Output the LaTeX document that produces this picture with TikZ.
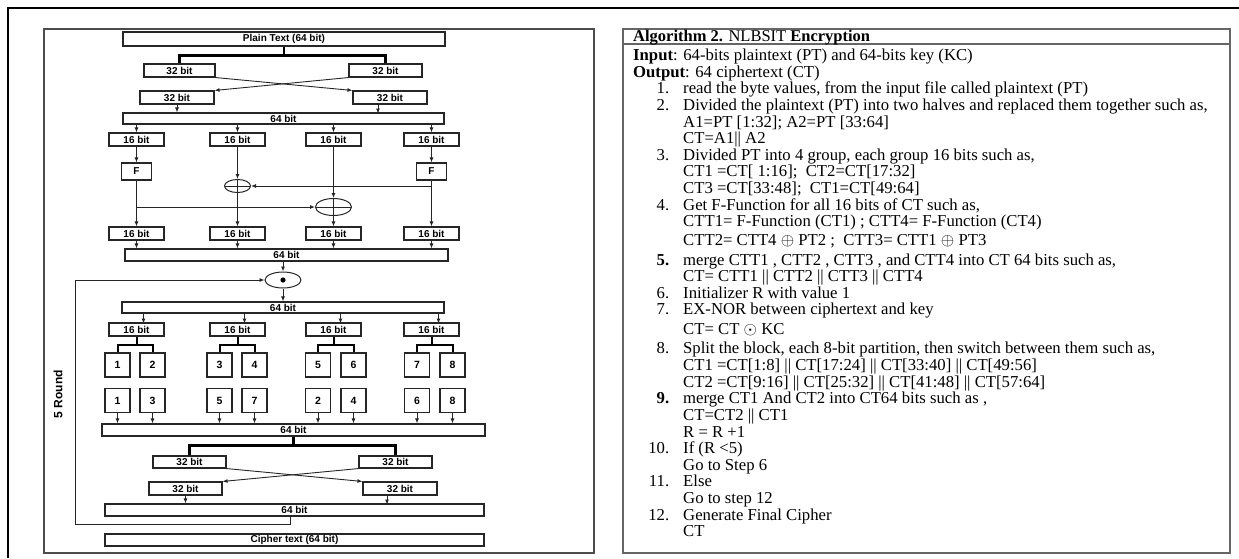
\documentclass[tikz,border=0pt]{standalone}
\usepackage{fontspec}
\setmainfont{Liberation Serif}
\newfontfamily\diagfont{Liberation Sans}
\usetikzlibrary{positioning, shapes.geometric, arrows.meta, calc}

\newcommand{\algnum}[1]{\makebox[36pt][r]{#1}\hspace{14pt}}
\newcommand{\algcont}{\hspace*{50pt}}
\newcommand{\algop}[1]{{\fontsize{18}{18}\selectfont$#1$}}

\begin{document}
\begin{tikzpicture}[x=1pt, y=-1pt, >={Latex[length=5pt,width=4pt]},
		bitbox/.style={draw=black!85, line width=1.1pt, inner sep=0pt, minimum height=13pt, font=\diagfont\bfseries\fontsize{10}{10}\selectfont},
		numbox/.style={bitbox, minimum width=25pt, minimum height=24pt, font=\diagfont\bfseries\fontsize{10.5}{11}\selectfont},
		xorop/.style={ellipse, draw=black!85, line width=1pt, inner sep=0pt,
			path picture={\draw[line width=1pt] (path picture bounding box.west) -- (path picture bounding box.east) (path picture bounding box.north) -- (path picture bounding box.south);}},
		xnorop/.style={ellipse, draw=black!85, line width=1pt, inner sep=0pt, minimum width=36pt, minimum height=16pt,
			path picture={\fill (path picture bounding box.center) circle (2.6pt);}},
		bitlink/.style={->, draw=black!85, line width=0.9pt},
		splitline/.style={draw=black, line width=2.2pt},
		frameline/.style={draw=black!70, line width=1.3pt}]
	
	\useasboundingbox (0,0) rectangle (1239,558);
	\draw[line width=2.5pt] (8,558) -- (8,8) -- (1239,8);
	\draw[frameline] (44,29) rectangle (594,553);
	\draw[frameline, draw=black!60] (623,29) rectangle (1230,553);
	\draw[frameline, draw=black!60] (623,44) -- (1230,44);
	
	\node[bitbox, minimum width=322pt, minimum height=14pt] (plain) at (284,39) {Plain Text (64 bit)};
	\node[bitbox, minimum width=71pt] (h32a) at (179.5,70.5) {32 bit};
	\node[bitbox, minimum width=73pt] (h32b) at (385.5,70.5) {32 bit};
	\node[bitbox, minimum width=74pt] (s32a) at (177,97.5) {32 bit};
	\node[bitbox, minimum width=74pt] (s32b) at (390,97.5) {32 bit};
	\node[bitbox, minimum width=321pt, minimum height=11pt] (m64a) at (283.5,118.5) {64 bit};
	
	\node[bitbox, minimum width=55pt] (a1) at (136.5,139.5) {16 bit};
	\node[bitbox, minimum width=55pt] (a2) at (237.5,139.5) {16 bit};
	\node[bitbox, minimum width=55pt] (a3) at (333.5,139.5) {16 bit};
	\node[bitbox, minimum width=55pt] (a4) at (431.5,139.5) {16 bit};
	\node[bitbox, minimum width=30pt, minimum height=17pt] (fl) at (136.5,171.5) {F};
	\node[bitbox, minimum width=30pt, minimum height=17pt] (fr) at (431.5,171.5) {F};
	\node[xorop, minimum width=26pt, minimum height=13pt] (xa) at (237.5,186) {};
	\node[xorop, minimum width=36pt, minimum height=17pt] (xb) at (333.5,207) {};
	\node[bitbox, minimum width=55pt] (b1) at (136.5,233.5) {16 bit};
	\node[bitbox, minimum width=55pt] (b2) at (237.5,233.5) {16 bit};
	\node[bitbox, minimum width=55pt] (b3) at (333.5,233.5) {16 bit};
	\node[bitbox, minimum width=55pt] (b4) at (431.5,233.5) {16 bit};
	\node[bitbox, minimum width=323pt, minimum height=12pt] (m64b) at (286.5,255) {64 bit};
	
	\node[xnorop] (xnor) at (283,280) {};
	\node[bitbox, minimum width=322pt, minimum height=11pt] (m64c) at (283,307.5) {64 bit};
	\node[bitbox, minimum width=55pt] (c1) at (136.5,329.5) {16 bit};
	\node[bitbox, minimum width=55pt] (c2) at (237.5,329.5) {16 bit};
	\node[bitbox, minimum width=55pt] (c3) at (333.5,329.5) {16 bit};
	\node[bitbox, minimum width=55pt] (c4) at (431.5,329.5) {16 bit};
	
	\node[numbox] (n1) at (117.5,365) {1};
	\node[numbox] (n2) at (152.5,365) {2};
	\node[numbox] (n3) at (219.5,365) {3};
	\node[numbox] (n4) at (254.5,365) {4};
	\node[numbox] (n5) at (318,365) {5};
	\node[numbox] (n6) at (353.5,365) {6};
	\node[numbox] (n7) at (417,365) {7};
	\node[numbox] (n8) at (452.5,365) {8};
	\node[numbox] (k1) at (117.5,400.5) {1};
	\node[numbox] (k2) at (152.5,400.5) {3};
	\node[numbox] (k3) at (219.5,400.5) {5};
	\node[numbox] (k4) at (254.5,400.5) {7};
	\node[numbox] (k5) at (318,400.5) {2};
	\node[numbox] (k6) at (353.5,400.5) {4};
	\node[numbox] (k7) at (417,400.5) {6};
	\node[numbox] (k8) at (452.5,400.5) {8};
	
	\node[bitbox, minimum width=383pt, minimum height=12pt] (m64d) at (293.5,430) {64 bit};
	\node[bitbox, minimum width=73pt, minimum height=12pt] (t32a) at (189.5,462) {32 bit};
	\node[bitbox, minimum width=73pt, minimum height=12pt] (t32b) at (395.5,462) {32 bit};
	\node[bitbox, minimum width=73pt] (u32a) at (185.5,488.5) {32 bit};
	\node[bitbox, minimum width=74pt] (u32b) at (400,488.5) {32 bit};
	\node[bitbox, minimum width=379pt, minimum height=12pt] (m64e) at (294.5,510) {64 bit};
	\node[bitbox, minimum width=379pt, minimum height=12pt] (cipher) at (294.5,540) {Cipher text (64 bit)};
	\node[rotate=90, font=\diagfont\bfseries\fontsize{12}{12}\selectfont] (rounds) at (58,394) {5 Round};
	\coordinate (back) at (75,524);
	
	\draw[splitline] (plain.south) -- ++(0,9) coordinate (pj);
	\draw[splitline] (h32a.north) |- (pj) -| (h32b.north);
	\draw[bitlink] (h32a.south east) -- (s32b.north west);
	\draw[bitlink] (h32b.south west) -- (s32a.north east);
	\draw[bitlink] (s32a) -- (s32a |- m64a.north);
	\draw[bitlink] (s32b.south) ++(-12,0) -- ++(0,9);
	\draw[bitlink] (m64a.south -| a1) -- (a1.north);
	\draw[bitlink] (m64a.south -| a2) -- (a2.north);
	\draw[bitlink] (m64a.south -| a3) -- (a3.north);
	\draw[bitlink] (m64a.south -| a4) -- (a4.north);
	\draw[bitlink] (a1) -- (fl);
	\draw[bitlink] (a4) -- (fr);
	\draw[bitlink] (a2) -- (xa);
	\draw[bitlink] (a3) -- (xb);
	\draw[bitlink] (fl) -- (b1);
	\draw[bitlink] (fr) -- (b4);
	\draw[bitlink] (xa) -- (b2);
	\draw[bitlink] (xb) -- (b3);
	\draw[bitlink] (fr |- xa) -- (xa.east);
	\draw[bitlink] (fl |- xb) -- (xb.west);
	\draw[bitlink] (b1) -- (b1 |- m64b.north);
	\draw[bitlink] (b2) -- (b2 |- m64b.north);
	\draw[bitlink] (b3) -- (b3 |- m64b.north);
	\draw[bitlink] (b4) -- (b4 |- m64b.north);
	\draw[bitlink] (m64b.south -| xnor) -- (xnor.north);
	\draw[bitlink] (xnor) -- (xnor |- m64c.north);
	\draw[bitlink] (m64c.south -| c1) ++(7,0) -- ++(0,10);
	\draw[bitlink] (m64c.south -| c2) ++(7,0) -- ++(0,10);
	\draw[bitlink] (m64c.south -| c3) ++(7,0) -- ++(0,10);
	\draw[bitlink] (m64c.south -| c4) ++(7,0) -- ++(0,10);
	
	\draw[splitline, line width=2pt] (c1.south) -- ++(0,8) coordinate (c1j);
	\draw[splitline, line width=2pt] (n1.north) |- (c1j) -| (n2.north);
	\draw[splitline, line width=2pt] (c2.south) -- ++(0,8) coordinate (c2j);
	\draw[splitline, line width=2pt] (n3.north) |- (c2j) -| (n4.north);
	\draw[splitline, line width=2pt] (c3.south) -- ++(0,8) coordinate (c3j);
	\draw[splitline, line width=2pt] (n5.north) |- (c3j) -| (n6.north);
	\draw[splitline, line width=2pt] (c4.south) -- ++(0,8) coordinate (c4j);
	\draw[splitline, line width=2pt] (n7.north) |- (c4j) -| (n8.north);
	
	\draw[bitlink] (k1) -- (k1 |- m64d.north);
	\draw[bitlink] (k2) -- (k2 |- m64d.north);
	\draw[bitlink] (k3) -- (k3 |- m64d.north);
	\draw[bitlink] (k4) -- (k4 |- m64d.north);
	\draw[bitlink] (k5) -- (k5 |- m64d.north);
	\draw[bitlink] (k6) -- (k6 |- m64d.north);
	\draw[bitlink] (k7) -- (k7 |- m64d.north);
	\draw[bitlink] (k8) -- (k8 |- m64d.north);
	\draw[splitline] (m64d.south) -- ++(0,9) coordinate (dj);
	\draw[splitline] (t32a.north) |- (dj) -| (t32b.north);
	\draw[bitlink] (t32a.south east) -- (u32b.north west);
	\draw[bitlink] (t32b.south west) -- (u32a.north east);
	\draw[bitlink] (u32a) -- (u32a |- m64e.north);
	\draw[bitlink] (u32b.south) ++(-13,0) -- ++(0,9);
	\draw[bitlink] (m64e.south) ++(-4,0) |- (back) |- (xnor.west);
	
	\node[anchor=base west, inner sep=0pt, font=\fontsize{16.5}{17}\selectfont] (algtitle) at (633,41.5)
	{\textbf{Algorithm 2.} NLBSIT \textbf{Encryption}};
	\node[anchor=north west, align=left, inner sep=0pt, font=\fontsize{16.7}{16.6}\selectfont] (algbody) at (633,49)
	{\textbf{Input}: 64-bits plaintext (PT) and 64-bits key (KC)\\
		\textbf{Output}: 64 ciphertext (CT)\\
		\algnum{1.}read the byte values, from the input file called plaintext (PT)\\
		\algnum{2.}Divided the plaintext (PT) into two halves and replaced them together such as,\\
		\algcont A1=PT [1:32]; A2=PT [33:64]\\
		\algcont CT=A1|| A2\\
		\algnum{3.}Divided PT into 4 group, each group 16 bits such as,\\
		\algcont CT1 =CT[ 1:16];~ CT2=CT[17:32]\\
		\algcont CT3 =CT[33:48];~ CT1=CT[49:64]\\
		\algnum{4.}Get F-Function for all 16 bits of CT such as,\\
		\algcont CTT1= F-Function (CT1) ; CTT4= F-Function (CT4)\\[2.5pt]
		\algcont CTT2= CTT4 \algop{\oplus} PT2 ;~ CTT3= CTT1 \algop{\oplus} PT3\\[2.5pt]
		\algnum{\textbf{5.}}merge CTT1 , CTT2 , CTT3 , and CTT4 into CT 64 bits such as,\\
		\algcont CT= CTT1 || CTT2 || CTT3 || CTT4\\
		\algnum{6.}Initializer R with value 1\\
		\algnum{7.}EX-NOR between ciphertext and key\\[3.5pt]
		\algcont CT= CT \algop{\odot} KC\\[2.5pt]
		\algnum{8.}Split the block, each 8-bit partition, then switch between them such as,\\
		\algcont CT1 =CT[1:8] || CT[17:24] || CT[33:40] || CT[49:56]\\
		\algcont CT2 =CT[9:16] || CT[25:32] || CT[41:48] || CT[57:64]\\
		\algnum{\textbf{9.}}merge CT1 And CT2 into CT64 bits such as ,\\
		\algcont CT=CT2 || CT1\\
		\algcont R = R +1\\
		\algnum{10.}If (R <5)\\
		\algcont Go to Step 6\\
		\algnum{11.}Else\\
		\algcont Go to step 12\\
		\algnum{12.}Generate Final Cipher\\
		\algcont CT};
	
\end{tikzpicture}
\end{document}
